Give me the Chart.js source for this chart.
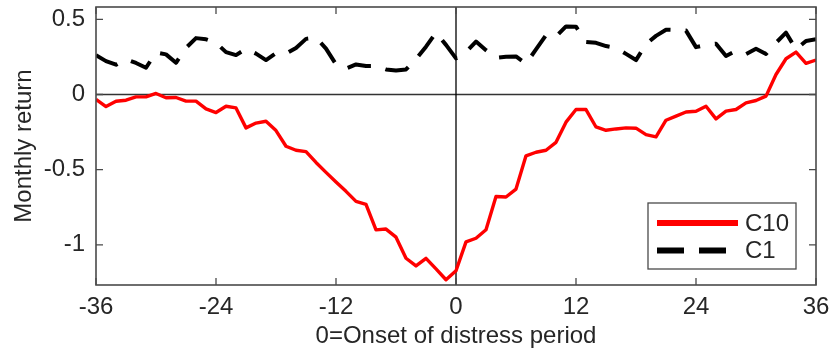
<!DOCTYPE html>
<html>
<head>
<meta charset="utf-8">
<script src="https://cdn.jsdelivr.net/npm/chart.js@4.4.1/dist/chart.umd.min.js"></script>
<style>
  html, body { margin: 0; padding: 0; background: #fff; }
</style>
</head>
<body>
<canvas id="chart" width="829" height="352"></canvas>
<script>
// months relative to the onset of distress
const months = [-36, -35, -34, -33, -32, -31, -30, -29, -28, -27, -26, -25, -24,
  -23, -22, -21, -20, -19, -18, -17, -16, -15, -14, -13, -12,
  -11, -10, -9, -8, -7, -6, -5, -4, -3, -2, -1, 0,
  1, 2, 3, 4, 5, 6, 7, 8, 9, 10, 11, 12,
  13, 14, 15, 16, 17, 18, 19, 20, 21, 22, 23, 24,
  25, 26, 27, 28, 29, 30, 31, 32, 33, 34, 35, 36];

const c10 = [-0.033, -0.08, -0.045, -0.038, -0.016, -0.016, 0.007, -0.022, -0.02, -0.044, -0.044, -0.096, -0.12,
  -0.078, -0.089, -0.222, -0.19, -0.178, -0.24, -0.344, -0.371, -0.38, -0.452, -0.518, -0.582,
  -0.644, -0.711, -0.73, -0.9, -0.895, -0.949, -1.089, -1.14, -1.09, -1.16, -1.232, -1.172,
  -0.98, -0.956, -0.9, -0.678, -0.682, -0.629, -0.408, -0.384, -0.371, -0.318, -0.184, -0.1,
  -0.1, -0.216, -0.238, -0.229, -0.222, -0.224, -0.267, -0.282, -0.171, -0.144, -0.116, -0.111,
  -0.078, -0.162, -0.111, -0.1, -0.056, -0.04, -0.011, 0.133, 0.238, 0.282, 0.207, 0.229];

const c1 = [0.262, 0.222, 0.198, 0.235, 0.21, 0.178, 0.28, 0.267, 0.211, 0.31, 0.375, 0.367, 0.344,
  0.282, 0.262, 0.304, 0.272, 0.229, 0.275, 0.272, 0.31, 0.37, 0.378, 0.305, 0.2,
  0.173, 0.2, 0.189, 0.189, 0.167, 0.16, 0.167, 0.235, 0.318, 0.411, 0.33, 0.24,
  0.282, 0.352, 0.295, 0.244, 0.251, 0.253, 0.205, 0.3, 0.395, 0.385, 0.453, 0.451,
  0.35, 0.344, 0.322, 0.31, 0.27, 0.229, 0.335, 0.39, 0.431, 0.429, 0.425, 0.315,
  0.33, 0.338, 0.256, 0.29, 0.269, 0.304, 0.27, 0.344, 0.411, 0.3, 0.356, 0.367];

const xTicks = [-36, -24, -12, 0, 12, 24, 36];
const yTicks = [-1, -0.5, 0, 0.5];
const yMin = -1.267;
const yMax = 0.582;

const FONT = "'Liberation Sans', Arial, Helvetica, sans-serif";
const TEXT = '#262626';
const AXIS = '#4a4a4a';

// box, inward ticks on all four sides, and the two zero lines
const framePlugin = {
  id: 'frame',
  beforeDatasetsDraw(chart) {
    const { ctx, chartArea: a, scales } = chart;
    const y0 = scales.y.getPixelForValue(0);
    const x0 = scales.x.getPixelForValue(0);
    ctx.save();
    ctx.lineWidth = 1.3;
    ctx.strokeStyle = '#333';
    ctx.beginPath();
    ctx.moveTo(a.left, y0);
    ctx.lineTo(a.right, y0);
    ctx.stroke();
    ctx.strokeStyle = '#000';
    ctx.beginPath();
    ctx.moveTo(x0, a.top);
    ctx.lineTo(x0, a.bottom);
    ctx.stroke();
    ctx.restore();
  },
  afterDatasetsDraw(chart) {
    const { ctx, chartArea: a, scales } = chart;
    const len = 7;
    ctx.save();
    ctx.strokeStyle = AXIS;
    ctx.lineWidth = 1.3;
    ctx.beginPath();
    xTicks.forEach(v => {
      const x = scales.x.getPixelForValue(v);
      ctx.moveTo(x, a.bottom); ctx.lineTo(x, a.bottom - len);
      ctx.moveTo(x, a.top); ctx.lineTo(x, a.top + len);
    });
    yTicks.forEach(v => {
      const y = scales.y.getPixelForValue(v);
      ctx.moveTo(a.left, y); ctx.lineTo(a.left + len, y);
      ctx.moveTo(a.right, y); ctx.lineTo(a.right - len, y);
    });
    ctx.stroke();
    ctx.lineWidth = 1.6;
    ctx.strokeRect(a.left, a.top, a.right - a.left, a.bottom - a.top);
    ctx.restore();
  },
  afterDraw(chart) {
    // legend box in the lower right corner of the plot
    const { ctx, chartArea: a } = chart;
    const w = 148, h = 66;
    const left = a.right - 20 - w;
    const top = a.bottom - 16 - h;
    ctx.save();
    ctx.fillStyle = '#fff';
    ctx.fillRect(left, top, w, h);
    ctx.strokeStyle = AXIS;
    ctx.lineWidth = 1.3;
    ctx.strokeRect(left, top, w, h);
    chart.data.datasets.forEach((ds, i) => {
      const y = top + 20 + i * 27.5;
      ctx.strokeStyle = ds.borderColor;
      ctx.lineWidth = 6;
      ctx.lineCap = 'butt';
      ctx.setLineDash(ds.borderDash ? [27, 15] : []);
      ctx.beginPath();
      ctx.moveTo(left + 9, y);
      ctx.lineTo(left + 90, y);
      ctx.stroke();
      ctx.setLineDash([]);
      ctx.fillStyle = TEXT;
      ctx.font = '24px ' + FONT;
      ctx.textBaseline = 'middle';
      ctx.textAlign = 'left';
      ctx.fillText(ds.label, left + 97, y + 1);
    });
    ctx.restore();
  }
};

// fixed axis boxes so the plot area sits where the original one does
const fixBox = size => s => {
  if (s.isHorizontal()) s.height = size; else s.width = size;
  s.paddingTop = 0;
  s.paddingBottom = 0;
  s.paddingLeft = 0;
  s.paddingRight = 0;
};

new Chart(document.getElementById('chart'), {
  type: 'line',
  data: {
    datasets: [
      {
        label: 'C10',
        data: months.map((m, i) => ({ x: m, y: c10[i] })),
        borderColor: '#ff0000',
        borderWidth: 3.4,
        borderJoinStyle: 'round',
        pointRadius: 0,
        tension: 0
      },
      {
        label: 'C1',
        data: months.map((m, i) => ({ x: m, y: c1[i] })),
        borderColor: '#000000',
        borderWidth: 4,
        borderDash: [24, 15],
        borderJoinStyle: 'round',
        pointRadius: 0,
        tension: 0
      }
    ]
  },
  options: {
    responsive: false,
    animation: false,
    devicePixelRatio: 1,
    layout: { padding: { top: 7, right: 13, left: 0, bottom: 0 } },
    plugins: { legend: { display: false }, tooltip: { enabled: false } },
    scales: {
      x: {
        type: 'linear',
        min: -36,
        max: 36,
        afterBuildTicks: s => { s.ticks = xTicks.map(v => ({ value: v })); },
        afterFit: fixBox(67),
        grid: { display: false, drawTicks: false },
        border: { display: false },
        ticks: {
          autoSkip: false,
          maxRotation: 0,
          padding: 8,
          color: TEXT,
          font: { family: FONT, size: 24 }
        },
        title: {
          display: true,
          text: '0=Onset of distress period',
          color: TEXT,
          font: { family: FONT, size: 24 },
          padding: { top: 0, bottom: 1 }
        }
      },
      y: {
        type: 'linear',
        min: yMin,
        max: yMax,
        afterBuildTicks: s => { s.ticks = yTicks.map(v => ({ value: v })); },
        afterFit: fixBox(96),
        grid: { display: false, drawTicks: false },
        border: { display: false },
        ticks: {
          padding: 11,
          color: TEXT,
          font: { family: FONT, size: 24 },
          callback: v => String(v)
        },
        title: {
          display: true,
          text: 'Monthly return',
          color: TEXT,
          font: { family: FONT, size: 24 },
          padding: { top: 10, bottom: 0 }
        }
      }
    }
  },
  plugins: [framePlugin]
});
</script>
</body>
</html>
